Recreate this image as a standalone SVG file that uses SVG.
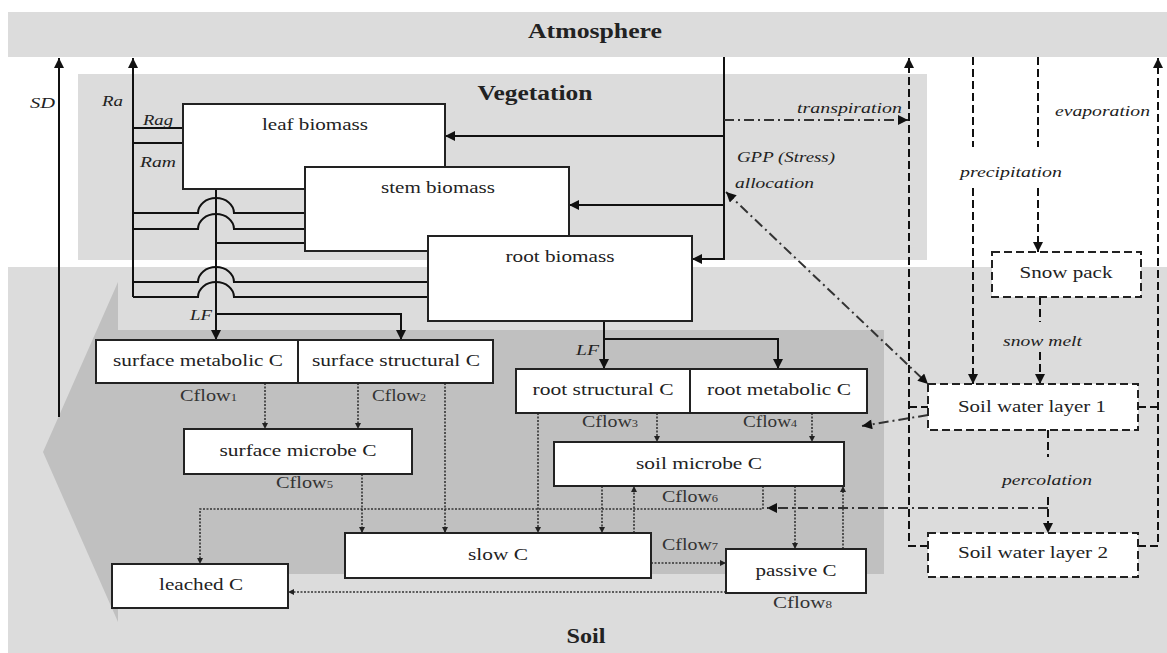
<svg xmlns="http://www.w3.org/2000/svg" width="1167" height="653" viewBox="0 0 1167 653">
<defs>
<style>
.bg{fill:#dcdcdc}
.dark{fill:#c0c0c0}
.node{fill:#fff;stroke:#222;stroke-width:2}
.wnode{fill:#fff;stroke:#222;stroke-width:2;stroke-dasharray:8 4}
.lbl{font-family:"Liberation Serif",serif;font-size:17px;fill:#222;text-anchor:middle}
.title{font-family:"Liberation Serif",serif;font-size:20px;font-weight:bold;fill:#222;text-anchor:middle}
.it{font-family:"Liberation Serif",serif;font-size:15px;font-style:italic;fill:#222}
.cf{font-family:"Liberation Serif",serif;font-size:16px;fill:#333}
.solid{fill:none;stroke:#111;stroke-width:2}
.dash{fill:none;stroke:#111;stroke-width:2;stroke-dasharray:8 4}
.dd{fill:none;stroke:#333;stroke-width:2;stroke-dasharray:10 4 2 4}
.dot{fill:none;stroke:#333;stroke-width:1.6;stroke-dasharray:2 1.5}
</style>
<marker id="a" viewBox="0 0 10 10" refX="10" refY="5" markerWidth="11" markerHeight="10" markerUnits="userSpaceOnUse" orient="auto"><path d="M0 0L10 5L0 10z" fill="#111"/></marker>
<marker id="as" viewBox="0 0 10 10" refX="0" refY="5" markerWidth="11" markerHeight="10" markerUnits="userSpaceOnUse" orient="auto"><path d="M10 0L0 5L10 10z" fill="#111"/></marker>
<marker id="d" viewBox="0 0 10 10" refX="10" refY="5" markerWidth="7" markerHeight="6" markerUnits="userSpaceOnUse" orient="auto"><path d="M0 0L10 5L0 10z" fill="#222"/></marker>
</defs>

<g id="backgrounds">
<rect class="bg" x="8" y="12" width="1159" height="45"/>
<rect class="bg" x="78" y="74" width="849" height="186"/>
<rect class="bg" x="8" y="267" width="1159" height="386"/>
<polygon class="dark" points="118,282 118,330 884,330 884,574 118,574 118,622 43,452"/>
<text class="title" x="595" y="38" textLength="134" lengthAdjust="spacingAndGlyphs">Atmosphere</text>
<text class="title" x="535" y="100" textLength="115" lengthAdjust="spacingAndGlyphs">Vegetation</text>
<text class="title" x="586" y="643" textLength="39" lengthAdjust="spacingAndGlyphs">Soil</text>
</g>

<g id="connectors">
<!-- solid carbon flows -->
<path class="solid" d="M59 417V58" marker-end="url(#a)"/>
<path class="solid" d="M133 297V58" marker-end="url(#a)"/>
<path class="solid" d="M133 128H183M133 143H183"/>
<path class="solid" d="M216 189V340" marker-end="url(#a)"/>
<path class="solid" d="M133 213H198A18 15 0 0 1 234 213H305"/>
<path class="solid" d="M133 229H198A18 15 0 0 1 234 229H305"/>
<path class="solid" d="M216 243H305"/>
<path class="solid" d="M133 282H198A18 15 0 0 1 234 282H428"/>
<path class="solid" d="M133 297H198A18 15 0 0 1 234 297H428"/>
<path class="solid" d="M216 314H401V340" marker-end="url(#a)"/>
<path class="solid" d="M724 57V259H692" marker-end="url(#a)"/>
<path class="solid" d="M724 136H445" marker-end="url(#a)"/>
<path class="solid" d="M724 205H569" marker-end="url(#a)"/>
<path class="solid" d="M604 321V369" marker-end="url(#a)"/>
<path class="solid" d="M604 339H778V369" marker-end="url(#a)"/>
<!-- water flows -->
<path class="dash" d="M928 546H909V58" marker-end="url(#a)"/>
<path class="dash" d="M909 407H928"/>
<path class="dash" d="M1138 546H1158V58" marker-end="url(#a)"/>
<path class="dash" d="M1138 407H1158"/>
<path class="dash" d="M973 57V147"/>
<path class="dash" d="M973 188V384" marker-end="url(#a)"/>
<path class="dash" d="M1038 57V147"/>
<path class="dash" d="M1038 188V252" marker-end="url(#a)"/>
<path class="dash" d="M1040 297V322"/>
<path class="dash" d="M1040 352V384" marker-end="url(#a)"/>
<path class="dash" d="M1048 430V457"/>
<path class="dash" d="M1048 497V533" marker-end="url(#a)"/>
<!-- dash-dot water controls -->
<path class="dd" d="M724 120H908" marker-end="url(#a)"/>
<path class="dd" d="M726 192L928 384" marker-start="url(#as)" marker-end="url(#a)"/>
<path class="dd" d="M928 415L862 426" marker-end="url(#a)"/>
<path class="dd" d="M1048 508H767" marker-end="url(#a)"/>
<!-- dotted carbon flows in soil -->
<path class="dot" d="M265 383V429" marker-end="url(#d)"/>
<path class="dot" d="M358 383V429" marker-end="url(#d)"/>
<path class="dot" d="M445 383V533" marker-end="url(#d)"/>
<path class="dot" d="M362 474V533" marker-end="url(#d)"/>
<path class="dot" d="M538 413V533" marker-end="url(#d)"/>
<path class="dot" d="M657 413V442" marker-end="url(#d)"/>
<path class="dot" d="M812 413V442" marker-end="url(#d)"/>
<path class="dot" d="M602 486V533" marker-end="url(#d)"/>
<path class="dot" d="M634 533V486" marker-end="url(#d)"/>
<path class="dot" d="M795 486V549" marker-end="url(#d)"/>
<path class="dot" d="M843 549V486" marker-end="url(#d)"/>
<path class="dot" d="M763 486V509H200V564" marker-end="url(#d)"/>
<path class="dot" d="M651 563H726" marker-end="url(#d)"/>
<path class="dot" d="M726 592H288" marker-end="url(#d)"/>
<!-- labels -->
<text class="it" x="30" y="108" textLength="25" lengthAdjust="spacingAndGlyphs">SD</text>
<text class="it" x="102" y="106" textLength="21" lengthAdjust="spacingAndGlyphs">Ra</text>
<text class="it" x="143" y="125" textLength="30" lengthAdjust="spacingAndGlyphs">Rag</text>
<text class="it" x="140" y="167" textLength="36" lengthAdjust="spacingAndGlyphs">Ram</text>
<text class="it" x="190" y="320" textLength="22" lengthAdjust="spacingAndGlyphs">LF</text>
<text class="it" x="576" y="355" textLength="23" lengthAdjust="spacingAndGlyphs">LF</text>
<text class="it" x="797" y="113" textLength="105" lengthAdjust="spacingAndGlyphs">transpiration</text>
<text class="it" x="737" y="162" textLength="98" lengthAdjust="spacingAndGlyphs">GPP (Stress)</text>
<text class="it" x="735" y="188" textLength="79" lengthAdjust="spacingAndGlyphs">allocation</text>
<text class="it" x="960" y="177" textLength="102" lengthAdjust="spacingAndGlyphs">precipitation</text>
<text class="it" x="1055" y="116" textLength="95" lengthAdjust="spacingAndGlyphs">evaporation</text>
<text class="it" x="1003" y="346" textLength="79" lengthAdjust="spacingAndGlyphs">snow melt</text>
<text class="it" x="1002" y="485" textLength="90" lengthAdjust="spacingAndGlyphs">percolation</text>
<text class="cf" x="180" y="401" textLength="57" lengthAdjust="spacingAndGlyphs">Cflow<tspan font-size="10">1</tspan></text>
<text class="cf" x="372" y="401" textLength="54" lengthAdjust="spacingAndGlyphs">Cflow<tspan font-size="10">2</tspan></text>
<text class="cf" x="582" y="427" textLength="56" lengthAdjust="spacingAndGlyphs">Cflow<tspan font-size="10">3</tspan></text>
<text class="cf" x="743" y="427" textLength="54" lengthAdjust="spacingAndGlyphs">Cflow<tspan font-size="10">4</tspan></text>
<text class="cf" x="276" y="488" textLength="57" lengthAdjust="spacingAndGlyphs">Cflow<tspan font-size="10">5</tspan></text>
<text class="cf" x="662" y="502" textLength="56" lengthAdjust="spacingAndGlyphs">Cflow<tspan font-size="10">6</tspan></text>
<text class="cf" x="662" y="550" textLength="56" lengthAdjust="spacingAndGlyphs">Cflow<tspan font-size="10">7</tspan></text>
<text class="cf" x="773" y="608" textLength="59" lengthAdjust="spacingAndGlyphs">Cflow<tspan font-size="10">8</tspan></text>
</g>

<g id="leaf-biomass"><rect class="node" x="183" y="104" width="262" height="85"/><text class="lbl" x="315" y="130" textLength="106" lengthAdjust="spacingAndGlyphs">leaf biomass</text></g>
<g id="stem-biomass"><rect class="node" x="305" y="167" width="264" height="84"/><text class="lbl" x="438" y="193" textLength="114" lengthAdjust="spacingAndGlyphs">stem biomass</text></g>
<g id="root-biomass"><rect class="node" x="428" y="236" width="264" height="85"/><text class="lbl" x="560" y="262" textLength="109" lengthAdjust="spacingAndGlyphs">root biomass</text></g>
<g id="surface-metabolic"><rect class="node" x="96" y="340" width="202" height="43"/><text class="lbl" x="198" y="366" textLength="170" lengthAdjust="spacingAndGlyphs">surface metabolic C</text></g>
<g id="surface-structural"><rect class="node" x="298" y="340" width="195" height="43"/><text class="lbl" x="396" y="366" textLength="168" lengthAdjust="spacingAndGlyphs">surface structural C</text></g>
<g id="root-structural"><rect class="node" x="516" y="369" width="174" height="44"/><text class="lbl" x="603" y="395" textLength="141" lengthAdjust="spacingAndGlyphs">root structural C</text></g>
<g id="root-metabolic"><rect class="node" x="690" y="369" width="177" height="44"/><text class="lbl" x="779" y="395" textLength="144" lengthAdjust="spacingAndGlyphs">root metabolic C</text></g>
<g id="surface-microbe"><rect class="node" x="184" y="429" width="228" height="45"/><text class="lbl" x="298" y="456" textLength="157" lengthAdjust="spacingAndGlyphs">surface microbe C</text></g>
<g id="soil-microbe"><rect class="node" x="554" y="442" width="290" height="44"/><text class="lbl" x="699" y="469" textLength="126" lengthAdjust="spacingAndGlyphs">soil microbe C</text></g>
<g id="slow-c"><rect class="node" x="345" y="533" width="306" height="45"/><text class="lbl" x="498" y="560" textLength="60" lengthAdjust="spacingAndGlyphs">slow C</text></g>
<g id="passive-c"><rect class="node" x="726" y="549" width="140" height="44"/><text class="lbl" x="796" y="576" textLength="81" lengthAdjust="spacingAndGlyphs">passive C</text></g>
<g id="leached-c"><rect class="node" x="112" y="564" width="176" height="44"/><text class="lbl" x="201" y="590" textLength="84" lengthAdjust="spacingAndGlyphs">leached C</text></g>
<g id="snow-pack"><rect class="wnode" x="992" y="252" width="149" height="45"/><text class="lbl" x="1066" y="278" textLength="93" lengthAdjust="spacingAndGlyphs">Snow pack</text></g>
<g id="soil-water-1"><rect class="wnode" x="928" y="384" width="210" height="46"/><text class="lbl" x="1032" y="412" textLength="148" lengthAdjust="spacingAndGlyphs">Soil water layer 1</text></g>
<g id="soil-water-2"><rect class="wnode" x="928" y="533" width="210" height="44"/><text class="lbl" x="1033" y="558" textLength="150" lengthAdjust="spacingAndGlyphs">Soil water layer 2</text></g>
</svg>
